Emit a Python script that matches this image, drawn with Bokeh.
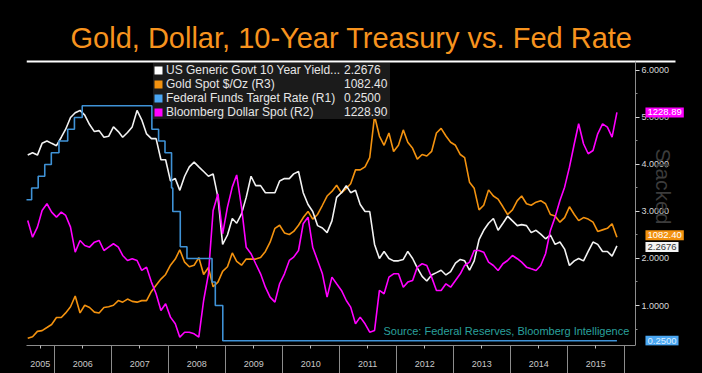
from math import pi
import pandas as pd
from bokeh.plotting import figure
from bokeh.models import (Range1d, LinearAxis, FixedTicker, NumeralTickFormatter,
                          CustomJSTickFormatter, Label, Legend, LegendItem)
from bokeh.embed import file_html
from bokeh.resources import INLINE

# ---------------- data (monthly, Jul 2005 .. Nov 2015) ----------------
title_text = "Gold, Dollar, 10-Year Treasury vs. Fed Rate"
source_text = "Source: Federal Reserves, Bloomberg Intelligence"
year_labels = ["2005", "2006", "2007", "2008", "2009", "2010",
               "2011", "2012", "2013", "2014", "2015"]

yield_10y = [
    4.20, 4.25, 4.20, 4.45, 4.50, 4.45,
    4.40, 4.58, 4.75, 5.00, 5.10, 5.15, 5.05, 4.85, 4.70, 4.72, 4.58, 4.60,
    4.80, 4.70, 4.58, 4.68, 4.80, 5.15, 4.95, 4.65, 4.55, 4.55, 4.10, 4.10,
    3.65, 3.70, 3.45, 3.75, 3.95, 4.05, 3.95, 3.85, 3.75, 3.80, 3.30, 2.30,
    2.50, 2.85, 2.75, 2.95, 3.30, 3.75, 3.55, 3.55, 3.40, 3.40, 3.40, 3.65,
    3.70, 3.70, 3.80, 3.85, 3.40, 3.15, 3.00, 2.70, 2.65, 2.55, 2.80, 3.30,
    3.40, 3.55, 3.40, 3.45, 3.15, 3.00, 3.00, 2.30, 2.00, 2.15, 2.00, 1.95,
    1.95, 1.98, 2.15, 2.00, 1.80, 1.62, 1.52, 1.65, 1.70, 1.75, 1.65, 1.72,
    1.90, 1.98, 1.95, 1.75, 1.95, 2.40, 2.60, 2.75, 2.85, 2.60, 2.75, 2.90,
    2.80, 2.70, 2.72, 2.70, 2.55, 2.60, 2.52, 2.42, 2.50, 2.30, 2.35, 2.20,
    1.85, 1.95, 2.00, 1.95, 2.15, 2.35, 2.30, 2.15, 2.15, 2.05, 2.2676,
]

gold_spot = [
    425, 435, 470, 475, 495, 515,
    560, 560, 590, 630, 700, 590, 640, 625, 595, 590, 625, 630,
    640, 670, 660, 680, 665, 660, 670, 670, 730, 770, 810, 840,
    900, 940, 1000, 920, 890, 900, 950, 840, 885, 760, 790, 860,
    890, 980, 925, 900, 940, 940, 940, 950, 990, 1050, 1140, 1160,
    1110, 1100, 1120, 1160, 1210, 1250, 1200, 1230, 1290, 1350, 1380, 1420,
    1370, 1400, 1430, 1520, 1520, 1540, 1600, 1870, 1740, 1680, 1760, 1640,
    1680, 1780, 1700, 1660, 1590, 1620, 1610, 1640, 1760, 1790, 1740, 1700,
    1680, 1620, 1600, 1440, 1400, 1260, 1290, 1390, 1350, 1330, 1280, 1230,
    1260, 1320, 1350, 1300, 1290, 1310, 1320, 1300, 1230, 1220, 1180, 1210,
    1280, 1230, 1190, 1210, 1200, 1180, 1120, 1130, 1140, 1170, 1082.4,
]

dollar_spot = [
    1092.6, 1071.5, 1084.2, 1105.2, 1113.7, 1103.1,
    1096.8, 1103.1, 1098.9, 1084.2, 1052.6, 1067.4, 1061.1, 1058.9, 1065.2, 1067.4, 1054.7, 1058.9,
    1063.2, 1058.9, 1048.4, 1042.1, 1044.3, 1042.1, 1029.5, 1033.7, 1014.8, 1000.1, 979.0, 987.4,
    970.6, 962.2, 945.3, 951.6, 951.6, 949.6, 945.3, 991.6, 1025.3, 1105.2, 1126.3, 1075.8,
    1109.4, 1135.0, 1150.0, 1109.4, 1058.9, 1050.6, 1038.0, 1025.3, 1008.4, 995.8, 989.5, 1012.7,
    1025.3, 1042.1, 1046.3, 1054.7, 1088.4, 1096.8, 1058.9, 1042.1, 1025.3, 995.8, 1021.1, 1012.7,
    1004.3, 991.6, 983.2, 962.2, 970.6, 962.2, 951.6, 953.8, 1004.3, 1000.1, 1021.1, 1025.3,
    1025.3, 1008.4, 1014.8, 1016.9, 1033.7, 1038.0, 1035.8, 1021.1, 1004.3, 1004.3, 1012.7, 1008.4,
    1016.9, 1025.3, 1035.8, 1040.0, 1054.7, 1054.7, 1052.6, 1040.0, 1035.8, 1029.5, 1038.0, 1042.1,
    1048.4, 1044.3, 1040.0, 1033.7, 1031.6, 1029.5, 1035.8, 1050.6, 1080.0, 1096.8, 1117.9, 1134.6,
    1159.9, 1189.4, 1214.6, 1189.4, 1176.8, 1180.9, 1202.0, 1214.6, 1210.4, 1197.7, 1228.9,
]

fed_dates = ["2005-07-01", "2005-08-09", "2005-09-20", "2005-11-01", "2005-12-13",
             "2006-01-31", "2006-03-28", "2006-05-10", "2006-06-29", "2007-09-18",
             "2007-10-31", "2007-12-11", "2008-01-22", "2008-01-30", "2008-03-18",
             "2008-04-30", "2008-10-08", "2008-10-29", "2008-12-16", "2015-11-15"]
fed_rates = [3.25, 3.50, 3.75, 4.00, 4.25, 4.50, 4.75, 5.00, 5.25, 4.75,
             4.50, 4.25, 3.50, 3.00, 2.25, 2.00, 1.50, 1.00, 0.25, 0.25]

legend_names = ["US Generic Govt 10 Year Yield...", "Gold Spot $/Oz (R3)",
                "Federal Funds Target Rate (R1)", "Bloomberg Dollar Spot (R2)"]
legend_values = ["2.2676", "1082.40", "0.2500", "1228.90"]
tag_texts = ["2.2676", "1082.40", "0.2500", "1228.89"]

r1_ticks = [1, 2, 3, 4, 5, 6]
r1_minor = [0.5, 1.5, 2.5, 3.5, 4.5, 5.5]

# ---------------- helpers ----------------
def dec_year(d):
    d = pd.Timestamp(d)
    n = 366 if d.is_leap_year else 365
    return d.year + (d.dayofyear - 0.5) / n

months = pd.date_range("2005-07-01", periods=len(yield_10y), freq="MS") + pd.Timedelta(days=14)
t_month = [dec_year(m) for m in months]
t_fed = [dec_year(d) for d in fed_dates]

# axis geometry (decimal years / value ranges)
X0 = 2005.514          # left edge of the frame
X_AX = 2016.198        # where the right value axis sits
X1 = 2017.374          # right edge of canvas
R1_LO, R1_HI = 0.149, 6.191

# ---------------- colours ----------------
c_white = "#f2f2f2"
c_gold = "#f3920f"
c_fed = "#3f92d6"
c_fed_sw = "#4aa6f2"
c_dollar = "#ff00ff"

p = figure(width=702, height=373, output_backend="svg", toolbar_location=None,
           x_range=Range1d(X0, X1), y_range=Range1d(R1_LO, 7.489),
           background_fill_color="black", border_fill_color="black",
           outline_line_color=None,
           min_border_left=26, min_border_right=0, min_border_top=0, min_border_bottom=28)
p.yaxis.visible = False
p.extra_y_ranges = {"gold": Range1d(378.2, 2621.3), "dollar": Range1d(934.8, 1370.2)}
p.xgrid.visible = False
p.ygrid.visible = False

# lines
p.line(t_month, gold_spot, y_range_name="gold", line_color=c_gold, line_width=1.6)
p.line(t_month, yield_10y, line_color=c_white, line_width=1.6)
p.line(t_month, dollar_spot, y_range_name="dollar", line_color=c_dollar, line_width=1.6)
p.step(t_fed, fed_rates, mode="after", line_color=c_fed, line_width=1.6)

# bottom axis: labels mid-year, separators at year boundaries
label_pos = []
for lab in year_labels:
    y = int(lab)
    lo, hi = max(y, X0), min(y + 1, X_AX)
    label_pos.append((lo + hi) / 2)
bounds = [y for y in range(int(year_labels[0]) + 1, int(X_AX) + 1)]
ax = p.below[0]
ax.bounds = (X0, X_AX)
ax.ticker = FixedTicker(ticks=label_pos, minor_ticks=bounds)
ax.formatter = CustomJSTickFormatter(code="return String(Math.floor(tick));")
ax.axis_line_color = "#8c8c8c"
ax.major_tick_line_color = "#bdbdbd"
ax.major_tick_out = 3
ax.major_tick_in = 0
ax.minor_tick_line_color = "#8c8c8c"
ax.minor_tick_out = 28
ax.minor_tick_in = 0
ax.major_label_text_color = "#c8c8c8"
ax.major_label_text_font = "Liberation Sans"
ax.major_label_text_font_size = "9px"
ax.major_label_standoff = -13

# top border line
top_ax = LinearAxis(fixed_location=R1_HI, bounds=(X0, 2016.9),
                    ticker=FixedTicker(ticks=[]), axis_line_color="white", axis_line_width=2,
                    major_tick_line_color=None, minor_tick_line_color=None,
                    major_label_text_font_size="0px")
p.add_layout(top_ax, "above")

# right value axis (R1)
ay = LinearAxis(fixed_location=X_AX, bounds=(R1_LO, R1_HI),
                ticker=FixedTicker(ticks=r1_ticks, minor_ticks=r1_minor),
                formatter=NumeralTickFormatter(format="0.0000"))
ay.axis_line_color = "#8c8c8c"
ay.major_tick_line_color = "#d8d8d8"
ay.major_tick_out = 4
ay.major_tick_in = 0
ay.minor_tick_out = 2
ay.minor_tick_in = 0
ay.minor_tick_line_color = "#8c8c8c"
ay.major_label_text_color = "#d8d8d8"
ay.major_label_text_font = "Liberation Sans"
ay.major_label_text_font_size = "9px"
ay.major_label_standoff = 2
p.add_layout(ay, "right")

# watermark
p.add_layout(Label(x=637, y=159, x_units="screen", y_units="screen", angle=-pi / 2,
                   text="Stacked", text_color="#3c3c3c", text_font="Liberation Sans",
                   text_font_size="21px", text_align="center", text_baseline="middle"))

# value tags at right
tag_specs = [
    (dollar_spot[-1], "dollar", c_dollar, "white", 0, 3),
    (gold_spot[-1], "gold", c_gold, "white", 2, 1),
    (yield_10y[-1], "default", "#f4f4f4", "#333333", -1, 0),
    (fed_rates[-1], "default", c_fed_sw, "#dcefff", 0, 2),
]
for val, rng, bg, fg, dy, ti in tag_specs:
    kw = {} if rng == "default" else {"y_range_name": rng}
    p.add_layout(Label(x=X_AX, y=val, x_offset=10, y_offset=dy, text=tag_texts[ti],
                       text_color=fg, text_font="Liberation Sans", text_font_size="9.5px",
                       text_align="left", text_baseline="middle",
                       background_fill_color=bg, background_fill_alpha=1.0,
                       padding=2, level="overlay", **kw))

# legend (square swatches from hidden area renderers)
sw_specs = [(yield_10y, "default", "#ffffff"), (gold_spot, "gold", c_gold),
            (fed_rates, "default", c_fed_sw), (dollar_spot, "dollar", c_dollar)]
name_items, value_items = [], []
for name, val_txt, (vals, rng, col) in zip(legend_names, legend_values, sw_specs):
    kw = {} if rng == "default" else {"y_range_name": rng}
    r = p.quad(left=t_month[-1:], right=t_month[-1:], bottom=vals[-1:], top=vals[-1:],
               fill_color=col, line_color=None, visible=False, **kw)
    name_items.append(LegendItem(label=name, renderers=[r]))
    value_items.append(LegendItem(label=val_txt, renderers=[r]))

LX, LY, PAD = 127, 226, 4
common = dict(orientation="vertical", border_line_color=None,
              label_text_color="#e6e6e6", label_text_font="Liberation Sans",
              label_text_font_size="12px", glyph_height=10, label_height=12,
              spacing=-3, padding=PAD, margin=0, inactive_fill_alpha=0.0)
legend = Legend(items=name_items, location=(LX, LY),
                background_fill_color="#1b1b1b", background_fill_alpha=1.0,
                glyph_width=10, label_width=224, label_standoff=3, **common)
p.add_layout(legend)
value_legend = Legend(items=value_items, location=(LX + 191, LY),
                      background_fill_alpha=0.0, glyph_width=0, label_width=20,
                      label_standoff=0, **common)
p.add_layout(value_legend)

# source
p.add_layout(Label(x=357, y=15, x_units="screen", y_units="screen", text=source_text,
                   text_color="#2aa19d", text_font="Liberation Sans", text_font_size="11px",
                   text_align="left", text_baseline="middle"))

# title
p.add_layout(Label(x=325, y=308, x_units="screen", y_units="screen", text=title_text,
                   text_color="#f7931e", text_font="Liberation Sans",
                   text_font_size="29px", text_align="center", text_baseline="middle"))

html = file_html(p, INLINE)
html = html.replace("<body>", '<body style="background-color:#000000;">')
open("out.html", "w").write(html)
